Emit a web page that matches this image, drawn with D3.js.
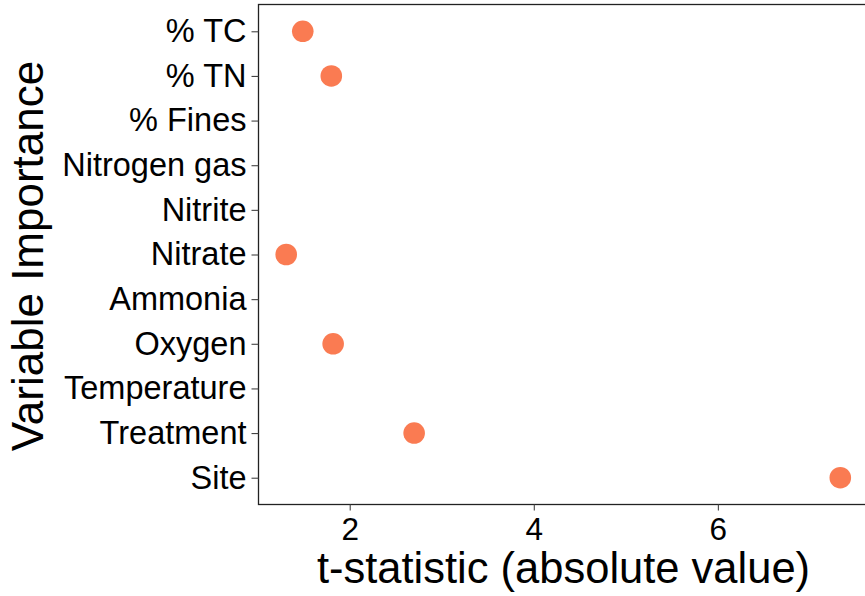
<!DOCTYPE html>
<html>
<head>
<meta charset="utf-8">
<script src="https://cdn.jsdelivr.net/npm/d3@7"></script>
<style>
  html, body { margin: 0; padding: 0; background: #fff; }
  svg { display: block; font-family: "Liberation Sans", Arial, Helvetica, sans-serif; }
</style>
</head>
<body>
<script>
// Categories top to bottom
const categories = ["% TC", "% TN", "% Fines", "Nitrogen gas", "Nitrite", "Nitrate",
  "Ammonia", "Oxygen", "Temperature", "Treatment", "Site"];
// Points (only categories with values)
const pointVars = ["% TC", "% TN", "Nitrate", "Oxygen", "Treatment", "Site"];
const pointVals = [1.49, 1.80, 1.31, 1.82, 2.70, 7.33];
const xTicks = [2, 4, 6];
const xTitle = "t-statistic (absolute value)";
const yTitle = "Variable Importance";

const W = 865, H = 596;
const panel = { left: 258.5, top: 4.5, right: 868, bottom: 504.5 };

const svg = d3.select("body").append("svg").attr("width", W).attr("height", H);

const [mn, mx] = d3.extent(pointVals);
const pad = (mx - mn) * 0.05;
const x = d3.scaleLinear().domain([mn - pad, mx + pad]).range([panel.left, panel.right]);
const y = d3.scalePoint().domain(categories).range([panel.top, panel.bottom]).padding(0.6);

// Panel border
svg.append("rect")
  .attr("x", panel.left).attr("y", panel.top)
  .attr("width", panel.right - panel.left).attr("height", panel.bottom - panel.top)
  .attr("fill", "none").attr("stroke", "#222").attr("stroke-width", 1.3);

// Y axis
const yAxis = svg.append("g").attr("transform", `translate(${panel.left},0)`)
  .call(d3.axisLeft(y).tickSize(7).tickPadding(5));
yAxis.select(".domain").remove();
yAxis.selectAll(".tick line").attr("stroke", "#444").attr("stroke-width", 1.1);
yAxis.selectAll(".tick text").attr("font-size", 32.5).attr("fill", "#000")
  .attr("font-family", "'Liberation Sans', Arial, sans-serif");

// X axis
const xAxis = svg.append("g").attr("transform", `translate(0,${panel.bottom})`)
  .call(d3.axisBottom(x).tickValues(xTicks).tickFormat(d3.format("d")).tickSize(6).tickPadding(7));
xAxis.select(".domain").remove();
xAxis.selectAll(".tick line").attr("stroke", "#444").attr("stroke-width", 1.1);
xAxis.selectAll(".tick text").attr("font-size", 31.5).attr("fill", "#000")
  .attr("font-family", "'Liberation Sans', Arial, sans-serif");

// Points
svg.append("g").selectAll("circle")
  .data(pointVars.map((v, i) => ({ v, val: pointVals[i] })))
  .join("circle")
  .attr("cx", d => x(d.val))
  .attr("cy", d => y(d.v))
  .attr("r", 10.8)
  .attr("fill", "#fa7b52");

// Titles
svg.append("text")
  .attr("x", 563.5)
  .attr("y", 583)
  .attr("text-anchor", "middle")
  .attr("font-size", 43.5)
  .attr("fill", "#000")
  .text(xTitle);

svg.append("text")
  .attr("transform", `translate(43,${(panel.top + panel.bottom) / 2 + 1.5}) rotate(-90)`)
  .attr("text-anchor", "middle")
  .attr("font-size", 44)
  .attr("fill", "#000")
  .text(yTitle);
</script>
</body>
</html>
